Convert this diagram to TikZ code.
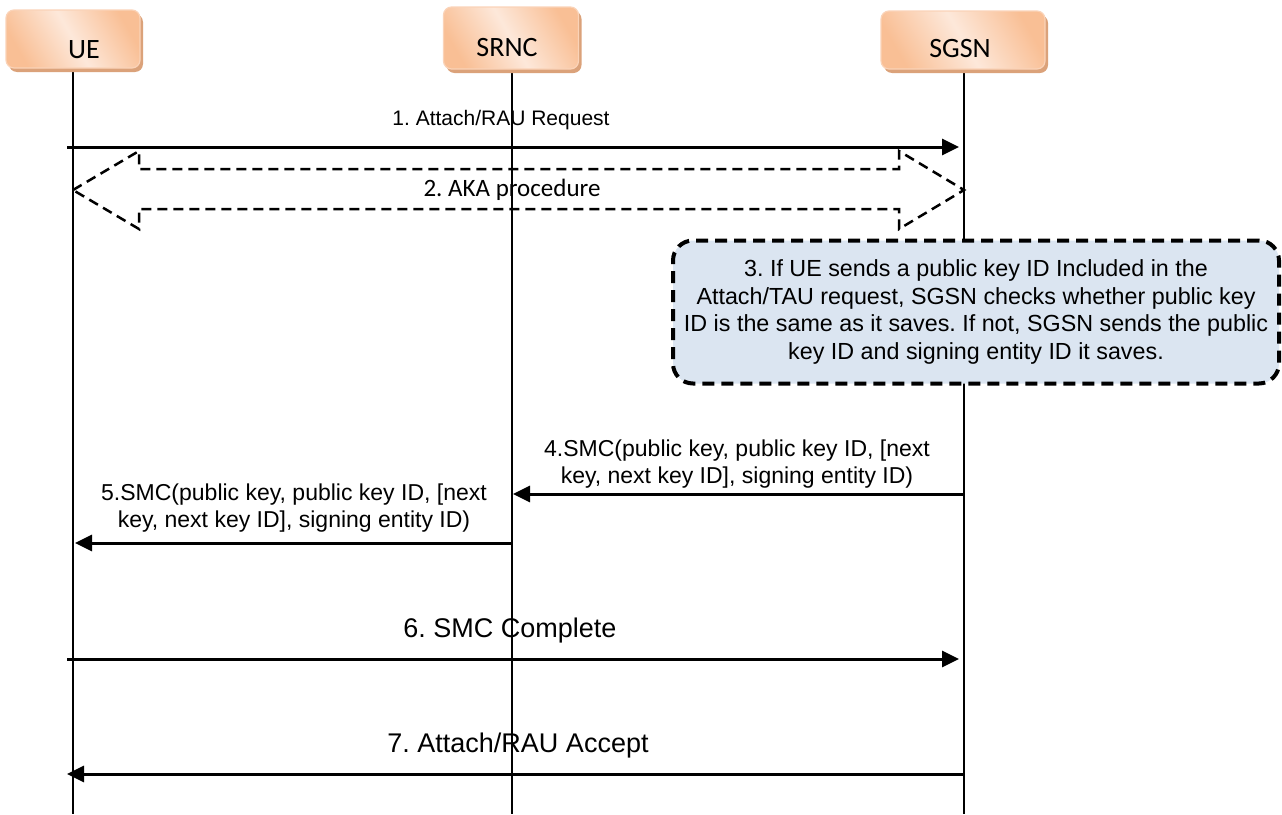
\documentclass[tikz,border=0pt]{standalone}
\usepackage{fontspec}
\setmainfont{Liberation Sans}
\newfontfamily\calfont{Carlito}
\usetikzlibrary{arrows.meta,shadows}
\definecolor{peachdark}{HTML}{F9BF95}
\definecolor{peachlight}{HTML}{FDE8DA}
\definecolor{peachedge}{HTML}{FAD3B8}
\definecolor{peachshadow}{HTML}{DBA27A}
\definecolor{notefill}{HTML}{DBE5F1}
\frenchspacing

\begin{document}
\begin{tikzpicture}[x=1pt,y=-1pt]
        \tikzstyle{every node}=[font=\fontsize{21}{27}\selectfont, inner sep=0pt]
        \tikzstyle{entity}=[draw=peachedge, line width=1.2pt, rounded corners=8pt,
            left color=peachdark, right color=peachdark, middle color=peachlight, shading angle=120,
            drop shadow={shadow xshift=3pt, shadow yshift=-4pt, fill=peachshadow, opacity=1},
            minimum height=58pt]
        \tikzstyle{entitylabel}=[font=\calfont\fontsize{28}{30}\selectfont]
        \tikzstyle{lifeline}=[line width=2pt]
        \tikzstyle{msg}=[line width=3pt, -{Triangle[length=17pt,width=16pt]}]
        \tikzstyle{aka}=[line width=2.5pt, dash pattern=on 10pt off 6pt]
        \tikzstyle{note}=[draw, line width=4pt, dash pattern=on 12pt off 7pt, rounded corners=20pt,
            fill=notefill, minimum width=606pt, minimum height=143pt, align=center,
            font=\fontsize{23.3}{27.5}\selectfont]
        \tikzstyle{smc}=[align=center, anchor=south, font=\fontsize{23}{27}\selectfont]
        \tikzstyle{biglabel}=[anchor=base, font=\fontsize{27}{32}\selectfont]

        \useasboundingbox (0,0) rectangle (1282,814);
        \coordinate (bottom) at (0,814);

        \draw[lifeline] (73,66) -- (73,814);
        \draw[lifeline] (512,68) -- (512,814);
        \draw[lifeline] (964,68) -- (964,814);

        \node[entity, minimum width=134pt, label={[entitylabel, xshift=11pt, yshift=-11pt]center:UE}] (ue) at (73,39) {};
        \node[entity, minimum width=135pt, minimum height=62pt, label={[entitylabel, xshift=-4pt, yshift=-10pt]center:SRNC}] (srnc) at (511,38) {};
        \node[entity, minimum width=164pt, label={[entitylabel, xshift=-3pt, yshift=-9pt]center:SGSN}] (sgsn) at (963,40) {};

        \coordinate (a1) at (67,147);
        \coordinate (b1) at (959,147);
        \draw[msg] (a1) -- (b1);
        \node[anchor=base] (lblAttach) at (501,125) {1. Attach/RAU Request};

        \draw[aka] (73,190) -- (139,151) -- (139,169) -- (899,169) -- (899,151) -- (964,190)
            -- (899,229) -- (899,209) -- (139,209) -- (139,229) -- cycle;
        \node[anchor=base, font=\calfont\fontsize{25}{30}\selectfont] (lblAka) at (512,196) {2. AKA procedure};

        \node[note] (check) at (976,312) {3. If UE sends a public key ID Included in the\\
            Attach/TAU request, SGSN checks whether public key\\
            ID is the same as it saves. If not, SGSN sends the public\\
            key ID and signing entity ID it saves.};

        \coordinate (a4) at (964,494);
        \coordinate (b4) at (513,494);
        \draw[msg] (a4) -- (b4);
        \node[smc] (lblSmc4) at (737,488) {4.SMC(public key, public key ID, [next\\key, next key ID], signing entity ID)};

        \coordinate (a5) at (512,543);
        \coordinate (b5) at (75,543);
        \draw[msg] (a5) -- (b5);
        \node[smc] (lblSmc5) at (294,532) {5.SMC(public key, public key ID, [next\\key, next key ID], signing entity ID)};

        \coordinate (a6) at (67,659);
        \coordinate (b6) at (959,659);
        \draw[msg] (a6) -- (b6);
        \node[biglabel] (lblComplete) at (510,637) {6. SMC Complete};

        \coordinate (a7) at (964,774);
        \coordinate (b7) at (67,774);
        \draw[msg] (a7) -- (b7);
        \node[biglabel] (lblAccept) at (518,752) {7. Attach/RAU Accept};
\end{tikzpicture}
\end{document}
